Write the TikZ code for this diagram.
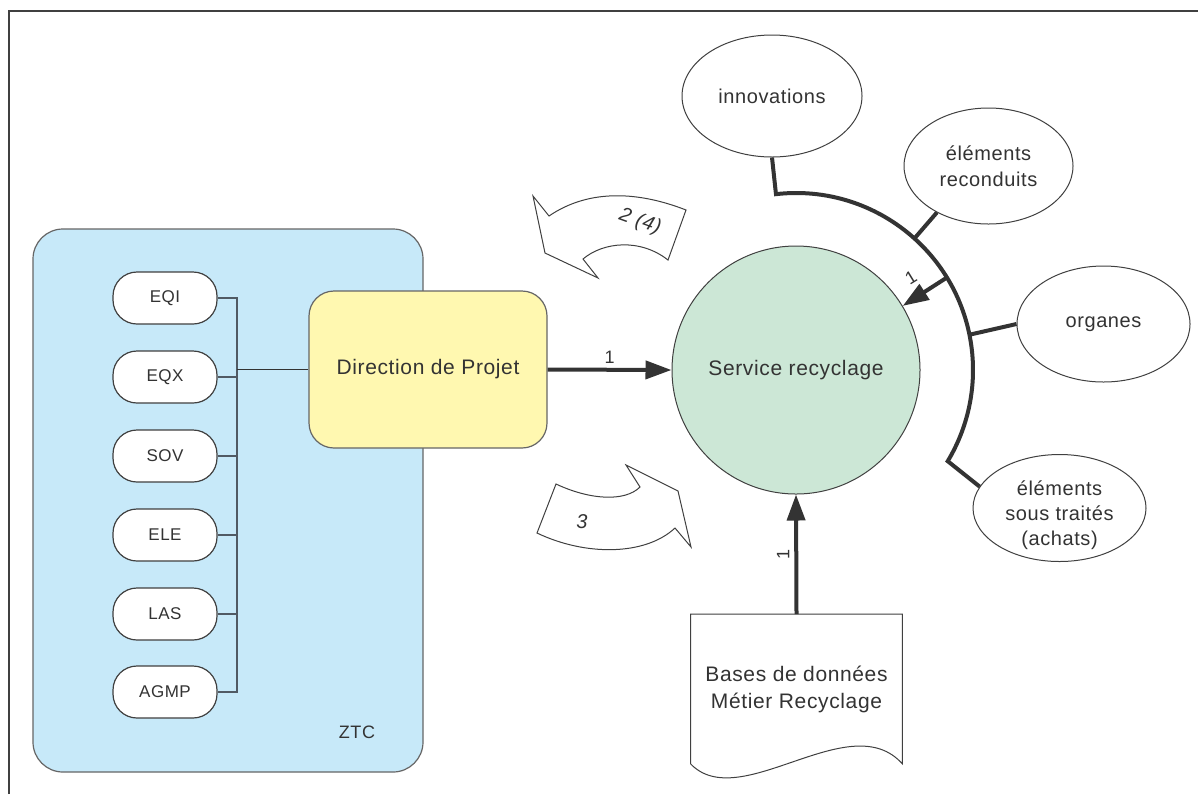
\documentclass[tikz,border=0pt]{standalone}
\usepackage{fontspec}
\setmainfont[LetterSpace=3]{Liberation Sans}
\usetikzlibrary{shapes.geometric,arrows.meta,calc}
\definecolor{txt}{RGB}{51,51,51}
\definecolor{frame}{RGB}{64,64,64}
\definecolor{ztcfill}{RGB}{199,233,249}
\definecolor{dpfill}{RGB}{255,248,176}
\definecolor{srfill}{RGB}{204,231,214}
\definecolor{busline}{RGB}{80,90,100}
\begin{document}
\begin{tikzpicture}[x=0.5pt,y=-0.5pt,
  every node/.style={text=txt},
  ztcbox/.style={draw=frame!80, line width=0.6pt, fill=ztcfill, rounded corners=15pt,
    minimum width=195pt, minimum height=271.5pt, inner sep=0pt},
  pill/.style={draw=frame, line width=0.6pt, fill=white, rounded corners=12pt,
    minimum width=52pt, minimum height=26pt, inner sep=0pt, font=\fontsize{8.5}{10}\selectfont},
  dpbox/.style={draw=frame!80, line width=0.6pt, fill=dpfill, rounded corners=12.5pt,
    minimum width=119pt, minimum height=78.5pt, inner sep=0pt, font=\fontsize{10.5}{13}\selectfont},
  srcirc/.style={circle, draw=frame, line width=0.5pt, fill=srfill, minimum size=124pt,
    inner sep=0pt, font=\fontsize{10.5}{13}\selectfont},
  oval/.style={ellipse, draw=frame, line width=0.5pt, fill=white, inner sep=0pt,
    align=center, font=\fontsize{10}{13}\selectfont},
  ovaltext/.style={align=center, inner sep=0pt, font=\fontsize{10}{12.5}\selectfont},
  busl/.style={draw=busline, line width=0.6pt},
  thickl/.style={draw=txt, line width=2pt},
  thickarrow/.style={draw=txt, line width=2pt, -{Triangle[length=13pt,width=9pt]}},
  blockarrow/.style={draw=frame, line width=0.5pt, fill=white},
  lbl/.style={font=\fontsize{9}{11}\selectfont, inner sep=1pt}
]
\useasboundingbox (0,0) rectangle (1198,794);
\fill[white] (0,0) rectangle (1198,794);
% outer frame (only left and top edges visible)
\draw[frame, line width=1pt] (9,794) -- (9,11) -- (1198,11);

% ZTC zone
\node[ztcbox] (ztc) at (228,500.5) {};
\node[font=\fontsize{9}{11}\selectfont] (ztclbl) at (357,732) {ZTC};

% pills
\node[pill] (eqi) at (165,298) {EQI};
\node[pill] (eqx) at (165,377) {EQX};
\node[pill] (sov) at (165,456) {SOV};
\node[pill] (ele) at (165,535) {ELE};
\node[pill] (las) at (165,614) {LAS};
\node[pill] (agmp) at (165,692) {AGMP};

% direction de projet
\node[dpbox] (dp) at (428,369.5) {Direction de Projet};

% bus
\coordinate (bt) at (237,298);
\coordinate (bb) at (237,692);
\draw[busl] (eqi.east) -- (bt) -- (bb) -- (agmp.east);
\draw[busl] (eqx.east) -- (eqx.east -| bt);
\draw[busl] (sov.east) -- (sov.east -| bt);
\draw[busl] (ele.east) -- (ele.east -| bt);
\draw[busl] (las.east) -- (las.east -| bt);
\draw[draw=txt, line width=0.7pt] (dp.west) -- (dp.west -| bt);

% service recyclage
\node[srcirc] (sr) at (796,370) {Service recyclage};

\draw[thickarrow] (dp.east) -- (sr.west) node[lbl, midway, above=1pt] {1};

% ellipses
\node[oval, minimum width=90pt, minimum height=61pt] (inn) at (772,96) {innovations};
\node[oval, minimum width=84.5pt, minimum height=58pt] (rec) at (988.5,166) {éléments\\reconduits};
\node[oval, minimum width=86.5pt, minimum height=58pt] (org) at (1103.5,324) {organes};
\node[oval, minimum width=86.5pt, minimum height=53.5pt] (sst) at (1059.5,508) {};
\node[ovaltext] (ssttext) at (1059.5,515) {éléments\\sous traités\\(achats)};

% collecting arc
\coordinate (astart) at ($(sr)+(96.5:88.5pt)$);
\draw[thickl, line join=miter] (inn.south) -- (astart)
   arc[start angle=96.5, end angle=-31, radius=88.5pt] -- (sst.165);
\draw[thickl] (rec.222) -- ($(sr)+(48:88.5pt)$);
\draw[thickl] (org.180) -- ($(sr)+(11.5:88.5pt)$);
\coordinate (a1) at ($(sr)+(31.5:88.5pt)$);
\draw[thickarrow] (a1) -- (sr.31.5);
\node[lbl, rotate=31.5] (l1b) at ($(a1)!0.5!(sr.31.5)+(-7pt,7pt)$) {1};

% database document
\node[minimum width=105.5pt, minimum height=74.5pt, inner sep=0pt, align=center,
  font=\fontsize{10.5}{13.5}\selectfont] (db) at (796.5,689) {Bases de données\\Métier Recyclage};
\draw[draw=frame, line width=0.5pt] (db.south west) -- (db.north west) -- (db.north east) -- (db.south east)
  .. controls (850,705) and (740,815) .. (db.south west);
\draw[thickarrow] (db.north) -- (sr.south);
\node[lbl, rotate=90] (l1c) at ($(db.north)!0.5!(sr.south)+(-6.5pt,0)$) {1};

% block arrow 2 (4)
\draw[blockarrow] (686,210) .. controls (640,192) and (590,188) .. (549,216)
  -- (533,196) -- (545,253) -- (598,278) -- (583,259)
  .. controls (603,242) and (640,238) .. (668,260) -- cycle;
\node[font=\itshape\fontsize{10}{12}\selectfont, rotate=-20] (t24) at (640,222) {2 (4)};

% block arrow 3
\draw[blockarrow] (556,484) .. controls (590,500) and (625,502) .. (640,487)
  -- (626,465) -- (678,491) -- (691,547) -- (675,528)
  .. controls (645,556) and (585,556) .. (537,533) -- cycle;
\node[font=\itshape\fontsize{10}{12}\selectfont] (t3) at (582,522) {3};
\end{tikzpicture}
\end{document}
